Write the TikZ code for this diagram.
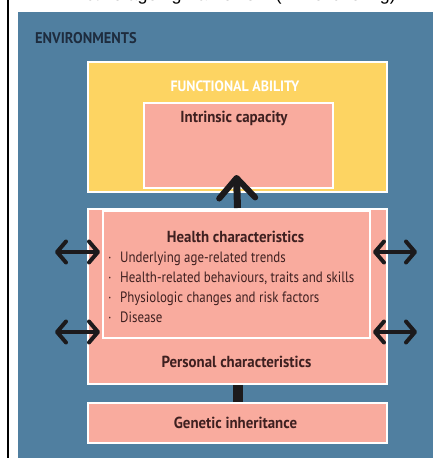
\documentclass[tikz,border=0pt]{standalone}
\usepackage{fontspec}
\setmainfont{PT Sans}[FakeStretch=0.86, BoldFeatures={FakeStretch=0.93}]
\newfontfamily\titlefont{Liberation Sans}
\usetikzlibrary{arrows.meta}

\definecolor{envblue}{RGB}{80,127,160}
\definecolor{abilityyellow}{RGB}{253,212,98}
\definecolor{capacitypink}{RGB}{249,171,158}
\definecolor{boxtext}{RGB}{62,32,32}
\definecolor{envtext}{RGB}{30,44,62}
\definecolor{arrowink}{RGB}{28,26,28}

\tikzset{
  panel/.style={draw=white, line width=2pt, anchor=north west, inner sep=0pt},
  pinkbox/.style={panel, fill=capacitypink},
  heading/.style={text=boxtext, inner sep=0pt, anchor=base,
    font=\bfseries\fontsize{16}{19}\selectfont},
  bulletline/.style={text=boxtext, inner sep=0pt, anchor=base west,
    font=\fontsize{15}{18}\selectfont},
  twoway/.style={draw=arrowink, line width=4pt,
    {Straight Barb[length=9pt,width=21pt,round]}-{Straight Barb[length=9pt,width=21pt,round]}},
  upward/.style={draw=arrowink, line width=7pt,
    -{Straight Barb[length=20pt,width=36pt,line width=6pt,round]}},
  stem/.style={draw=arrowink, line width=10pt},
}

\begin{document}
\begin{tikzpicture}[x=1pt,y=-1pt]
  \useasboundingbox (0,0) rectangle (432,458);
  \fill[white] (0,0) rectangle (432,458);

  % caption line, cut off by the top of the page
  \begin{scope}
    \clip (0,0) rectangle (432,12);
    \node[anchor=base east, inner sep=0pt,
      font=\titlefont\fontsize{18}{20}\selectfont] (caption) at (396,0.8)
      {Active ageing framework (WHO briefing)};
  \end{scope}

  % left rule and the environment panel
  \draw[line width=1.5pt, black] (8,0) -- (8,458);
  \node[fill=envblue, anchor=north west, inner sep=0pt,
    minimum width=416pt, minimum height=448pt] (env) at (18,12) {};
  \node[anchor=base west, inner sep=0pt, text=envtext,
    font=\bfseries\fontsize{15.5}{18}\selectfont] (envlabel) at (35,43) {ENVIRONMENTS};

  % functional ability with intrinsic capacity inside
  \node[panel, fill=abilityyellow, minimum width=299pt, minimum height=130pt]
    (ability) at (87,61) {};
  \node[heading, text=white, font=\bfseries\fontsize{15}{18}\selectfont]
    (abilitylabel) at (235,91) {FUNCTIONAL ABILITY};
  \node[pinkbox, minimum width=189pt, minimum height=85pt] (capacity) at (143,102) {};
  \node[heading] (capacitylabel) at (234,122) {Intrinsic capacity};

  % personal characteristics with health characteristics inside
  \node[pinkbox, minimum width=299pt, minimum height=175pt] (personal) at (87,208) {};
  \node[pinkbox, minimum width=267pt, minimum height=127pt] (health) at (102,210) {};
  \node[heading] (healthlabel) at (235.5,242) {Health characteristics};
  \node[bulletline] (b1) at (108,262) {\makebox[12pt][l]{·}Underlying age-related trends};
  \node[bulletline] (b2) at (108,282) {\makebox[12pt][l]{·}Health-related behaviours, traits and skills};
  \node[bulletline] (b3) at (108,302) {\makebox[12pt][l]{·}Physiologic changes and risk factors};
  \node[bulletline] (b4) at (108,322) {\makebox[12pt][l]{·}Disease};
  \node[heading] (personallabel) at (236.5,367) {Personal characteristics};

  % genetic inheritance
  \node[pinkbox, minimum width=299pt, minimum height=40pt] (genetic) at (87,402) {};
  \node[heading] (geneticlabel) at (235.5,428) {Genetic inheritance};

  % connectors
  \coordinate (captip) at (236.5,175);
  \draw[upward] (personal.north) -- (captip);
  \draw[stem] (personal.south) -- (genetic.north);

  \coordinate (lefttopout) at (55,252);
  \coordinate (lefttopin)  at (100,252);
  \coordinate (leftlowout) at (55,332);
  \coordinate (leftlowin)  at (100,332);
  \coordinate (righttopin)  at (373,252);
  \coordinate (righttopout) at (417,252);
  \coordinate (rightlowin)  at (373,332);
  \coordinate (rightlowout) at (417,332);
  \draw[twoway] (lefttopout) -- (lefttopin);
  \draw[twoway] (leftlowout) -- (leftlowin);
  \draw[twoway] (righttopin) -- (righttopout);
  \draw[twoway] (rightlowin) -- (rightlowout);
\end{tikzpicture}
\end{document}
